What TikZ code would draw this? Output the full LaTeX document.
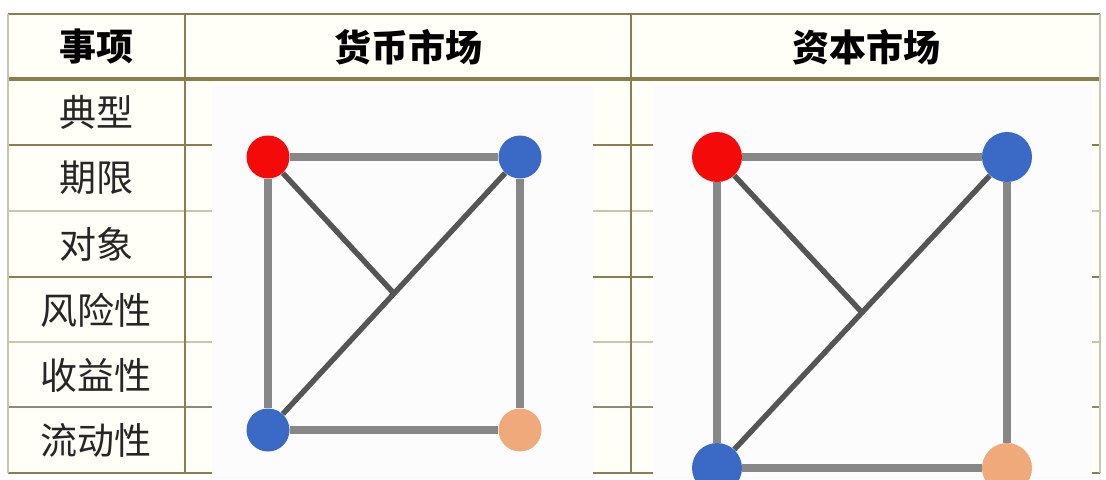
\documentclass[tikz,border=0pt]{standalone}
\usepackage{fontspec}
\newfontfamily\cjk{Noto Sans CJK SC}
\usetikzlibrary{calc}
\definecolor{rulebrown}{HTML}{8C7D50}
\definecolor{rulelight}{HTML}{CDC4AE}
\definecolor{cellcream}{HTML}{FFFEF7}
\definecolor{panelwhite}{HTML}{FCFCFD}
\definecolor{vred}{HTML}{F50A0A}
\definecolor{vblue}{HTML}{3A6AC6}
\definecolor{vpeach}{HTML}{EFA97B}
\definecolor{sidegray}{HTML}{878787}
\definecolor{diaggray}{HTML}{555555}
\begin{document}
\begin{tikzpicture}[
        x=0.5pt, y=-0.5pt,
        every node/.style={font=\cjk\fontsize{18.5}{18.5}\selectfont, inner sep=0pt},
        headcell/.style={font=\cjk\bfseries\fontsize{18.5}{18.5}\selectfont},
        rowcell/.style={text=black!85},
        darkrule/.style={draw=rulebrown, line width=0.9pt},
        lightrule/.style={draw=rulelight, line width=0.9pt},
        panel/.style={fill=panelwhite, draw=none},
        vertex/.style={circle, draw=none, minimum size=21.5pt},
        bigvertex/.style={circle, draw=none, minimum size=25pt},
        sideedge/.style={draw=sidegray, line width=4.4pt},
        diagedge/.style={draw=diaggray, line width=2.7pt}
        ]
        \useasboundingbox (0,0) rectangle (1106,479);
        \fill[white] (0,0) rectangle (1106,479);
        \fill[cellcream] (8,14) rectangle (1100,473);

        % table rules
        \draw[darkrule, line width=1.4pt] (8,14) -- (1100,14);
        \draw[darkrule, line width=1.6pt] (8,79) -- (1100,79);
        \draw[darkrule] (8,145) -- (1100,145);
        \draw[lightrule] (8,211) -- (1100,211);
        \draw[darkrule] (8,277) -- (1100,277);
        \draw[lightrule] (8,342) -- (1100,342);
        \draw[lightrule, draw=rulelight!70!black] (8,407) -- (1100,407);
        \draw[darkrule] (8,473) -- (1100,473);
        \draw[lightrule] (8,14) -- (8,473);
        \draw[darkrule] (185,14) -- (185,473);
        \draw[darkrule] (631,14) -- (631,473);
        \draw[lightrule] (1100,14) -- (1100,473);

        % header and row labels
        \node[headcell] (hItem) at (96,47) {事项};
        \node[headcell] (hMoney) at (408,47) {货币市场};
        \node[headcell] (hCapital) at (866,47) {资本市场};
        \node[rowcell] (rTypical) at (96,112) {典型};
        \node[rowcell] (rTerm) at (96,178) {期限};
        \node[rowcell] (rObject) at (96,244) {对象};
        \node[rowcell] (rRisk) at (96,310) {风险性};
        \node[rowcell] (rYield) at (96,375) {收益性};
        \node[rowcell] (rLiquid) at (96,440) {流动性};

        % pasted graph panels
        \fill[panel] (212,85) rectangle (593,479);
        \fill[panel] (653,85) rectangle (1092,479);

        % money market graph
        \node[vertex, fill=vred] (mRed) at (268,157) {};
        \node[vertex, fill=vblue] (mTop) at (520,157) {};
        \node[vertex, fill=vblue] (mLow) at (268,430) {};
        \node[vertex, fill=vpeach] (mPeach) at (520,430) {};
        \coordinate (mMid) at ($(mLow)!0.5!(mTop)$);
        \draw[sideedge] (mRed) -- (mTop);
        \draw[sideedge] (mRed) -- (mLow);
        \draw[sideedge] (mTop) -- (mPeach);
        \draw[sideedge] (mLow) -- (mPeach);
        \draw[diagedge] (mLow) -- (mTop);
        \draw[diagedge] (mRed) -- (mMid);

        % capital market graph
        \node[bigvertex, fill=vred] (cRed) at (717,157) {};
        \node[bigvertex, fill=vblue] (cTop) at (1007,157) {};
        \node[bigvertex, fill=vblue] (cLow) at (717,468) {};
        \node[bigvertex, fill=vpeach] (cPeach) at (1007,468) {};
        \coordinate (cMid) at ($(cLow)!0.5!(cTop)$);
        \draw[sideedge] (cRed) -- (cTop);
        \draw[sideedge] (cRed) -- (cLow);
        \draw[sideedge] (cTop) -- (cPeach);
        \draw[sideedge] (cLow) -- (cPeach);
        \draw[diagedge] (cLow) -- (cTop);
        \draw[diagedge] (cRed) -- (cMid);
\end{tikzpicture}
\end{document}
